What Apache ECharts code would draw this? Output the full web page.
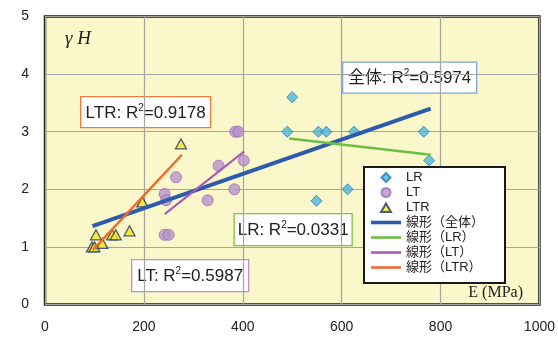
<!DOCTYPE html>
<html>
<head>
<meta charset="utf-8">
<script src="https://cdn.jsdelivr.net/npm/echarts@6/dist/echarts.min.js"></script>
<style>html,body{margin:0;padding:0;background:#fff;}#c{width:558px;height:337px;}</style>
</head>
<body>
<div id="c"></div>
<script>
// ---- data ----
const xTicks = [0, 200, 400, 600, 800, 1000];
const yTicks = [0, 1, 2, 3, 4, 5];
const lrX = [500, 490, 553, 569, 625, 766, 777, 612, 549];
const lrY = [3.6, 3.0, 3.0, 3.0, 3.0, 3.0, 2.5, 2.0, 1.8];
const ltX = [385, 391, 351, 402, 265, 242, 245, 329, 383, 242, 250];
const ltY = [3.0, 3.0, 2.41, 2.5, 2.21, 1.92, 1.81, 1.81, 2.0, 1.21, 1.21];
const ltrX = [95, 100, 116, 103, 136, 143, 171, 197, 275];
const ltrY = [1.0, 1.0, 1.06, 1.21, 1.21, 1.21, 1.28, 1.78, 2.79];
// trend line endpoints
const trendAllX = [96, 780], trendAllY = [1.36, 3.40];
const trendLRX = [494, 780], trendLRY = [2.88, 2.60];
const trendLTX = [242, 403], trendLTY = [1.57, 2.66];
const trendLTRX = [97, 277], trendLTRY = [0.95, 2.60];
const seriesNames = ['LR', 'LT', 'LTR', '線形（全体）', '線形（LR）', '線形（LT）', '線形（LTR）'];
const r2Labels = [
  {pre: '全体: R', val: '=0.5974', color: '#7FA6D6', cx: 409, cy: 77, w: 134, h: 31},
  {pre: 'LTR: R', val: '=0.9178', color: '#F07A3A', cx: 145, cy: 111.5, w: 130, h: 31},
  {pre: 'LT: R', val: '=0.5987', color: '#C58CCB', cx: 189.5, cy: 275, w: 117, h: 32},
  {pre: 'LR: R', val: '=0.0331', color: '#7CC243', cx: 292.5, cy: 229, w: 118, h: 32}
];

// legend icons drawn inside a 30x9 box (corner moveTo points fix the box extent)
const BOX = 'path://M0,0M30,9';
const legendIcons = [
  BOX + 'M15,0L19.5,4.5L15,9L10.5,4.5Z',
  BOX + 'M10.5,4.5A4.5,4.5,0,1,1,19.5,4.5A4.5,4.5,0,1,1,10.5,4.5Z',
  BOX + 'M15,0.5L20,9L10,9Z',
  BOX + 'M0,2.7L30,2.7L30,6.3L0,6.3Z',
  BOX + 'M0,3.2L30,3.2L30,5.8L0,5.8Z',
  BOX + 'M0,3.2L30,3.2L30,5.8L0,5.8Z',
  BOX + 'M0,3.2L30,3.2L30,5.8L0,5.8Z'
];

const zip = (a, b) => a.map((v, i) => [v, b[i]]);
const FONT = '"Liberation Sans", "Noto Sans CJK JP", sans-serif';

const chart = echarts.init(document.getElementById('c'), null, {renderer: 'canvas'});

const graphics = [];
r2Labels.forEach(l => {
  graphics.push({
    type: 'group', left: l.cx - l.w / 2, top: l.cy - l.h / 2, z: 100,
    children: [
      {type: 'rect', shape: {x: 0, y: 0, width: l.w, height: l.h},
       style: {fill: '#fff', stroke: l.color, lineWidth: 1.3}},
      {type: 'text', x: l.w / 2, y: l.h / 2 + 1,
       style: {
         text: '{a|' + l.pre + '}{s|2}{a|' + l.val + '}',
         align: 'center', verticalAlign: 'middle',
         rich: {
           a: {fontSize: 17, fontFamily: FONT, fill: '#222', lineHeight: 20},
           s: {fontSize: 10, fontFamily: FONT, fill: '#222', lineHeight: 20, verticalAlign: 'top', padding: [0, 0, 8, 0]}
         }
       }}
    ]
  });
});
graphics.push({type: 'text', left: 65, top: 29, z: 100,
  style: {text: 'γ H', font: 'italic 19px "Liberation Serif", serif', fill: '#222'}});
graphics.push({type: 'text', right: 35, top: 285, z: 100,
  style: {text: 'E (MPa)', font: '16px "Liberation Serif", serif', fill: '#222'}});

const option = {
  animation: false,
  backgroundColor: '#fff',
  grid: {left: 45, right: 17, top: 16.5, bottom: 32.5, show: true,
         backgroundColor: '#FAF7CB', borderColor: '#1a1a1a', borderWidth: 2.5},
  xAxis: {
    type: 'value', min: xTicks[0], max: xTicks[xTicks.length - 1], interval: 200,
    axisLine: {show: false}, axisTick: {show: false},
    splitLine: {show: true, lineStyle: {color: '#A6A6A0', width: 1.2}},
    axisLabel: {margin: 16, fontSize: 14, color: '#222', fontFamily: FONT, formatter: v => String(v)}
  },
  yAxis: {
    type: 'value', min: yTicks[0], max: yTicks[yTicks.length - 1], interval: 1,
    axisLine: {show: false}, axisTick: {show: false},
    splitLine: {show: true, lineStyle: {color: '#A6A6A0', width: 1.2}},
    axisLabel: {margin: 16, fontSize: 14, color: '#222', fontFamily: FONT, formatter: v => String(v)}
  },
  legend: {
    orient: 'vertical', left: 364, top: 167,
    data: seriesNames.map((n, i) => ({
      name: n, icon: legendIcons[i],
      itemStyle: i < 3 ? undefined : {borderWidth: 0}
    })),
    backgroundColor: '#fff', borderColor: '#1a1a1a', borderWidth: 2,
    padding: [4, 21, 9, 6], itemGap: 2, itemWidth: 30, itemHeight: 9,
    textStyle: {fontSize: 13, color: '#222', fontFamily: FONT, lineHeight: 13},
    z: 50
  },
  graphic: graphics,
  series: [
    {name: seriesNames[0], type: 'scatter', data: zip(lrX, lrY), symbol: 'diamond', symbolSize: 11,
     itemStyle: {color: '#4CB7DA', borderColor: '#2B78B8', borderWidth: 1}, z: 3},
    {name: seriesNames[1], type: 'scatter', data: zip(ltX, ltY), symbol: 'circle', symbolSize: 11,
     itemStyle: {color: '#B494CA', borderColor: '#A06AB6', borderWidth: 1}, z: 3},
    {name: seriesNames[2], type: 'scatter', data: zip(ltrX, ltrY), symbol: 'triangle', symbolSize: [11, 10],
     itemStyle: {color: '#F3E61C', borderColor: '#1F3568', borderWidth: 1.3}, z: 3},
    {name: seriesNames[3], type: 'line', data: zip(trendAllX, trendAllY), symbol: 'none',
     lineStyle: {color: '#2B5BAA', width: 4}, itemStyle: {color: '#2B5BAA'}, z: 4},
    {name: seriesNames[4], type: 'line', data: zip(trendLRX, trendLRY), symbol: 'none',
     lineStyle: {color: '#6DBE45', width: 2.5}, itemStyle: {color: '#6DBE45'}, z: 4},
    {name: seriesNames[5], type: 'line', data: zip(trendLTX, trendLTY), symbol: 'none',
     lineStyle: {color: '#A85CB4', width: 2.2}, itemStyle: {color: '#A85CB4'}, z: 4},
    {name: seriesNames[6], type: 'line', data: zip(trendLTRX, trendLTRY), symbol: 'none',
     lineStyle: {color: '#F26A2B', width: 2.5}, itemStyle: {color: '#F26A2B'}, z: 4}
  ]
};
chart.setOption(option);
</script>
</body>
</html>
